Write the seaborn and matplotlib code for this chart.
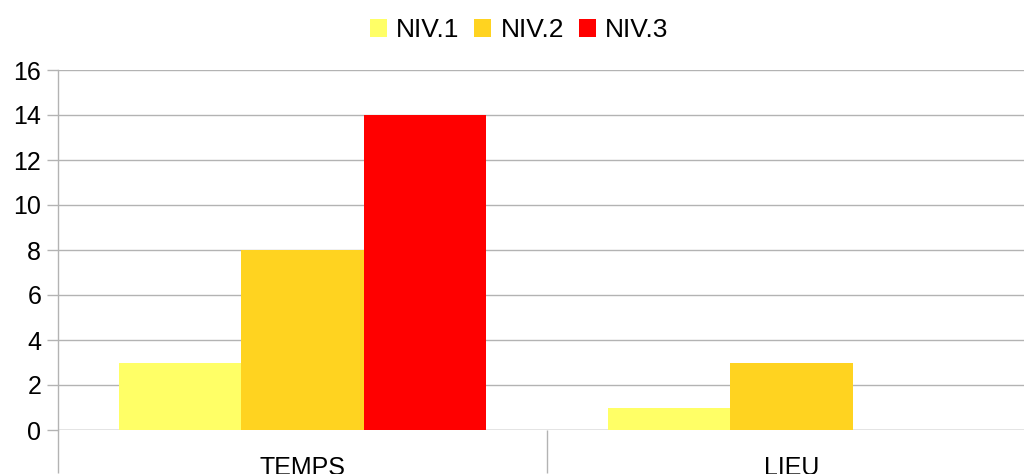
import matplotlib
matplotlib.use("Agg")
import matplotlib.pyplot as plt
import seaborn as sns
import pandas as pd

categories = ["TEMPS", "LIEU"]
series = ["NIV.1", "NIV.2", "NIV.3"]
niv1 = [3, 1]
niv2 = [8, 3]
niv3 = [14, 0]
colors = ["#FFFF66", "#FFD320", "#FF0000"]
yticks = [0, 2, 4, 6, 8, 10, 12, 14, 16]

rows = []
for s, vals in zip(series, [niv1, niv2, niv3]):
    for c, v in zip(categories, vals):
        rows.append({"cat": c, "serie": s, "val": v})
df = pd.DataFrame(rows)

sns.set_theme(style="white")
plt.rcParams["font.family"] = ["Liberation Sans", "DejaVu Sans"]
plt.rcParams["text.color"] = "black"

fig = plt.figure(figsize=(10.24, 4.74), dpi=100)
ax = fig.add_axes([58 / 1024, 44 / 474, 978 / 1024, 360 / 474])

sns.barplot(data=df, x="cat", y="val", hue="serie", palette=colors,
            width=0.75, gap=0, saturation=1, ax=ax, legend=False,
            edgecolor="none", linewidth=0)

ax.set_xlim(-0.5, 1.5)
ax.set_ylim(0, 16)
ax.set_yticks(yticks)
ax.yaxis.grid(True, color="#b3b3b3", linewidth=1)
ax.set_axisbelow(True)
for side in ["top", "right", "bottom"]:
    ax.spines[side].set_visible(False)
ax.spines["left"].set_color("#b3b3b3")
ax.spines["left"].set_linewidth(1)
ax.axhline(0, color="#b3b3b3", linewidth=1, zorder=0.5)

ax.set_xlabel("")
ax.set_ylabel("")
ax.tick_params(axis="y", which="major", length=8, width=1, color="#b3b3b3",
               direction="out", pad=4, labelsize=18, labelcolor="black", left=True)
ax.set_xticks([0, 1])
ax.set_xticklabels(categories)
ax.tick_params(axis="x", which="major", length=0, pad=19, labelsize=18, labelcolor="black")
ax.set_xticks([-0.5, 0.5, 1.5], minor=True)
ax.tick_params(axis="x", which="minor", length=31, width=1, color="#b3b3b3",
               direction="out", bottom=True)

handles = [plt.Rectangle((0, 0), 1, 1, facecolor=c, edgecolor="none") for c in colors]
fig.legend(handles, series, loc="upper center", bbox_to_anchor=(0.507, 1.0),
           ncol=3, frameon=False, fontsize=19, handlelength=0.65, handleheight=0.65,
           handletextpad=0.35, columnspacing=0.55, borderaxespad=0.3,
           labelcolor="black")

fig.savefig("out.png", dpi=100)
